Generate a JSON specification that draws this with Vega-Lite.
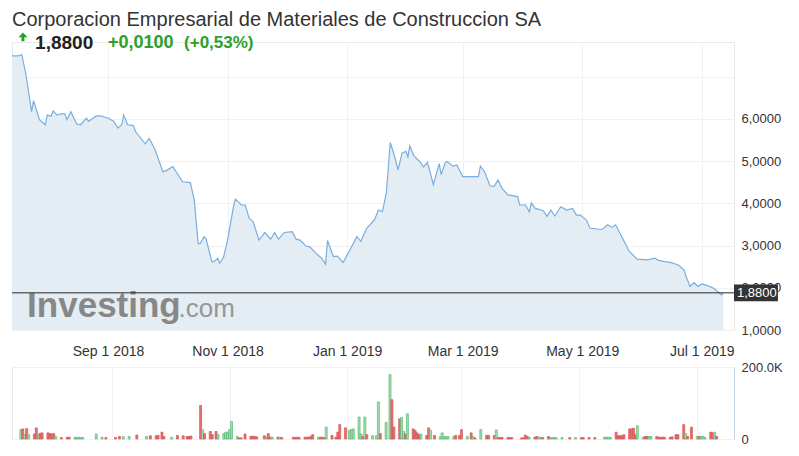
{
  "$schema": "https://vega.github.io/schema/vega-lite/v6.json",
  "padding": {"left": 9, "top": 10, "right": 0, "bottom": 0},
  "background": "white",
  "title": {"text": "Corporacion Empresarial de Materiales de Construccion SA", "anchor": "start", "frame": "group", "fontSize": 20, "fontWeight": "normal", "color": "#333333", "font": "Liberation Sans", "offset": 2},
  "config": {
    "font": "Liberation Sans",
    "view": {"stroke": "#e9e9e9"},
    "axis": {"labelFont": "Liberation Sans", "labelColor": "#333333", "title": null, "gridColor": "#f1f1f1", "domain": false, "ticks": false}
  },
  "spacing": 1,
  "datasets": {
    "price": [
      {"d":"2018-07-14","p":7.49},{"d":"2018-07-17","p":7.49},{"d":"2018-07-19","p":7.52},{"d":"2018-07-21","p":7.08},{"d":"2018-07-24","p":6.17},{"d":"2018-07-25","p":6.43},{"d":"2018-07-28","p":5.98},{"d":"2018-07-31","p":5.86},
      {"d":"2018-08-01","p":6.09},{"d":"2018-08-03","p":6.06},{"d":"2018-08-04","p":6.19},{"d":"2018-08-06","p":6.09},{"d":"2018-08-08","p":6.12},{"d":"2018-08-10","p":6.12},{"d":"2018-08-11","p":5.98},{"d":"2018-08-13","p":6.17},{"d":"2018-08-16","p":5.88},{"d":"2018-08-18","p":5.86},{"d":"2018-08-21","p":6.02},{"d":"2018-08-22","p":5.94},{"d":"2018-08-26","p":6.07},{"d":"2018-08-28","p":6.07},
      {"d":"2018-09-01","p":6.02},{"d":"2018-09-04","p":5.94},{"d":"2018-09-06","p":5.78},{"d":"2018-09-08","p":5.86},{"d":"2018-09-09","p":6.09},{"d":"2018-09-11","p":5.86},{"d":"2018-09-14","p":5.84},{"d":"2018-09-15","p":5.70},{"d":"2018-09-20","p":5.41},{"d":"2018-09-22","p":5.54},{"d":"2018-09-25","p":5.27},{"d":"2018-09-29","p":4.75},
      {"d":"2018-10-01","p":4.78},{"d":"2018-10-04","p":4.87},{"d":"2018-10-06","p":4.73},{"d":"2018-10-09","p":4.51},{"d":"2018-10-13","p":4.49},{"d":"2018-10-15","p":4.08},{"d":"2018-10-17","p":3.04},{"d":"2018-10-18","p":3.05},{"d":"2018-10-20","p":3.21},{"d":"2018-10-21","p":3.16},{"d":"2018-10-24","p":2.62},{"d":"2018-10-25","p":2.62},{"d":"2018-10-27","p":2.70},{"d":"2018-10-28","p":2.58},{"d":"2018-10-30","p":2.73},
      {"d":"2018-11-01","p":3.13},{"d":"2018-11-04","p":3.92},{"d":"2018-11-05","p":4.10},{"d":"2018-11-08","p":3.96},{"d":"2018-11-10","p":3.96},{"d":"2018-11-12","p":3.65},{"d":"2018-11-14","p":3.57},{"d":"2018-11-17","p":3.13},{"d":"2018-11-20","p":3.31},{"d":"2018-11-23","p":3.15},{"d":"2018-11-25","p":3.31},{"d":"2018-11-27","p":3.15},{"d":"2018-11-30","p":3.31},
      {"d":"2018-12-04","p":3.33},{"d":"2018-12-06","p":3.15},{"d":"2018-12-08","p":3.13},{"d":"2018-12-11","p":2.99},{"d":"2018-12-13","p":2.97},{"d":"2018-12-16","p":2.82},{"d":"2018-12-19","p":2.70},{"d":"2018-12-21","p":2.56},{"d":"2018-12-22","p":3.12},{"d":"2018-12-25","p":2.74},{"d":"2018-12-27","p":2.75},{"d":"2018-12-30","p":2.60},
      {"d":"2019-01-02","p":2.86},{"d":"2019-01-06","p":3.21},{"d":"2019-01-08","p":3.10},{"d":"2019-01-11","p":3.41},{"d":"2019-01-15","p":3.61},{"d":"2019-01-17","p":3.84},{"d":"2019-01-19","p":3.80},{"d":"2019-01-21","p":4.24},{"d":"2019-01-23","p":5.44},{"d":"2019-01-25","p":5.15},{"d":"2019-01-27","p":4.79},{"d":"2019-01-29","p":5.19},{"d":"2019-01-31","p":5.23},
      {"d":"2019-02-01","p":5.10},{"d":"2019-02-02","p":5.36},{"d":"2019-02-04","p":5.13},{"d":"2019-02-07","p":4.99},{"d":"2019-02-09","p":4.86},{"d":"2019-02-11","p":4.97},{"d":"2019-02-14","p":4.44},{"d":"2019-02-17","p":4.94},{"d":"2019-02-18","p":4.68},{"d":"2019-02-20","p":4.96},{"d":"2019-02-21","p":4.99},{"d":"2019-02-24","p":4.88},{"d":"2019-02-26","p":4.91},
      {"d":"2019-03-01","p":4.63},{"d":"2019-03-09","p":4.63},{"d":"2019-03-10","p":4.88},{"d":"2019-03-12","p":4.76},{"d":"2019-03-15","p":4.41},{"d":"2019-03-17","p":4.40},{"d":"2019-03-19","p":4.55},{"d":"2019-03-21","p":4.36},{"d":"2019-03-24","p":4.20},{"d":"2019-03-29","p":4.16},{"d":"2019-03-30","p":3.96},
      {"d":"2019-04-02","p":3.96},{"d":"2019-04-04","p":3.80},{"d":"2019-04-05","p":4.01},{"d":"2019-04-07","p":3.88},{"d":"2019-04-11","p":3.83},{"d":"2019-04-13","p":3.69},{"d":"2019-04-15","p":3.84},{"d":"2019-04-17","p":3.70},{"d":"2019-04-20","p":3.92},{"d":"2019-04-23","p":3.84},{"d":"2019-04-26","p":3.88},{"d":"2019-04-28","p":3.72},{"d":"2019-04-30","p":3.72},
      {"d":"2019-05-03","p":3.61},{"d":"2019-05-05","p":3.41},{"d":"2019-05-11","p":3.38},{"d":"2019-05-14","p":3.49},{"d":"2019-05-16","p":3.43},{"d":"2019-05-18","p":3.49},{"d":"2019-05-22","p":3.13},{"d":"2019-05-25","p":2.86},{"d":"2019-05-29","p":2.68},
      {"d":"2019-06-03","p":2.66},{"d":"2019-06-07","p":2.70},{"d":"2019-06-09","p":2.65},{"d":"2019-06-12","p":2.62},{"d":"2019-06-15","p":2.60},{"d":"2019-06-19","p":2.54},{"d":"2019-06-22","p":2.42},{"d":"2019-06-23","p":2.26},{"d":"2019-06-25","p":2.03},{"d":"2019-06-27","p":2.12},{"d":"2019-06-29","p":2.03},
      {"d":"2019-07-01","p":2.09},{"d":"2019-07-04","p":2.05},{"d":"2019-07-07","p":1.99},{"d":"2019-07-09","p":1.91},{"d":"2019-07-11","p":1.83},{"d":"2019-07-12","p":1.88}
    ],
    "vol": [
      {"d":"2018-07-16","v":26000,"t":"u"},{"d":"2018-07-17","v":28000,"t":"d"},{"d":"2018-07-18","v":12000,"t":"u"},{"d":"2018-07-19","v":29000,"t":"d"},{"d":"2018-07-20","v":12000,"t":"u"},{"d":"2018-07-23","v":14000,"t":"d"},{"d":"2018-07-24","v":31000,"t":"d"},{"d":"2018-07-25","v":12000,"t":"u"},{"d":"2018-07-26","v":16000,"t":"d"},{"d":"2018-07-27","v":17000,"t":"d"},{"d":"2018-07-30","v":17000,"t":"d"},{"d":"2018-07-31","v":15000,"t":"d"},
      {"d":"2018-08-01","v":14000,"t":"d"},{"d":"2018-08-02","v":15000,"t":"d"},{"d":"2018-08-03","v":7000,"t":"u"},{"d":"2018-08-06","v":4000,"t":"d"},{"d":"2018-08-09","v":5000,"t":"d"},{"d":"2018-08-10","v":5000,"t":"d"},{"d":"2018-08-13","v":5000,"t":"u"},{"d":"2018-08-14","v":4000,"t":"u"},{"d":"2018-08-15","v":5000,"t":"u"},{"d":"2018-08-16","v":4000,"t":"u"},{"d":"2018-08-17","v":4000,"t":"u"},{"d":"2018-08-24","v":14000,"t":"u"},{"d":"2018-08-27","v":5000,"t":"u"},{"d":"2018-08-29","v":4000,"t":"d"},
      {"d":"2018-09-03","v":4000,"t":"d"},{"d":"2018-09-05","v":7000,"t":"d"},{"d":"2018-09-07","v":7000,"t":"u"},{"d":"2018-09-10","v":7000,"t":"u"},{"d":"2018-09-14","v":11000,"t":"d"},{"d":"2018-09-19","v":7000,"t":"u"},{"d":"2018-09-21","v":9000,"t":"d"},{"d":"2018-09-24","v":9000,"t":"d"},{"d":"2018-09-25","v":10000,"t":"d"},{"d":"2018-09-27","v":19000,"t":"d"},{"d":"2018-09-28","v":7000,"t":"d"},
      {"d":"2018-10-02","v":5000,"t":"u"},{"d":"2018-10-05","v":10000,"t":"d"},{"d":"2018-10-08","v":9000,"t":"d"},{"d":"2018-10-10","v":7000,"t":"d"},{"d":"2018-10-11","v":7000,"t":"d"},{"d":"2018-10-12","v":8000,"t":"d"},{"d":"2018-10-17","v":93000,"t":"d"},{"d":"2018-10-18","v":26000,"t":"u"},{"d":"2018-10-19","v":15000,"t":"d"},{"d":"2018-10-22","v":21000,"t":"d"},{"d":"2018-10-23","v":12000,"t":"d"},{"d":"2018-10-25","v":21000,"t":"d"},{"d":"2018-10-26","v":12000,"t":"u"},{"d":"2018-10-29","v":15000,"t":"u"},{"d":"2018-10-30","v":19000,"t":"u"},{"d":"2018-10-31","v":19000,"t":"u"},
      {"d":"2018-11-01","v":26000,"t":"u"},{"d":"2018-11-02","v":49000,"t":"u"},{"d":"2018-11-05","v":7000,"t":"u"},{"d":"2018-11-06","v":3000,"t":"d"},{"d":"2018-11-07","v":3000,"t":"d"},{"d":"2018-11-09","v":14000,"t":"d"},{"d":"2018-11-12","v":7000,"t":"d"},{"d":"2018-11-13","v":8000,"t":"d"},{"d":"2018-11-14","v":7000,"t":"d"},{"d":"2018-11-15","v":6000,"t":"d"},{"d":"2018-11-19","v":9000,"t":"d"},{"d":"2018-11-20","v":5000,"t":"u"},{"d":"2018-11-21","v":15000,"t":"d"},{"d":"2018-11-22","v":5000,"t":"d"},{"d":"2018-11-23","v":5000,"t":"u"},{"d":"2018-11-26","v":5000,"t":"d"},{"d":"2018-11-27","v":5000,"t":"u"},{"d":"2018-11-28","v":4000,"t":"d"},
      {"d":"2018-12-04","v":5000,"t":"d"},{"d":"2018-12-05","v":4000,"t":"d"},{"d":"2018-12-06","v":5000,"t":"d"},{"d":"2018-12-07","v":4000,"t":"d"},{"d":"2018-12-10","v":5000,"t":"d"},{"d":"2018-12-11","v":5000,"t":"d"},{"d":"2018-12-12","v":5000,"t":"d"},{"d":"2018-12-13","v":7000,"t":"d"},{"d":"2018-12-14","v":12000,"t":"d"},{"d":"2018-12-17","v":5000,"t":"u"},{"d":"2018-12-18","v":5000,"t":"d"},{"d":"2018-12-19","v":5000,"t":"d"},{"d":"2018-12-20","v":4000,"t":"d"},{"d":"2018-12-21","v":33000,"t":"u"},{"d":"2018-12-24","v":10000,"t":"d"},{"d":"2018-12-26","v":5000,"t":"d"},{"d":"2018-12-27","v":19000,"t":"d"},{"d":"2018-12-28","v":40000,"t":"d"},{"d":"2018-12-31","v":31000,"t":"d"},
      {"d":"2019-01-02","v":24000,"t":"u"},{"d":"2019-01-03","v":26000,"t":"u"},{"d":"2019-01-04","v":28000,"t":"u"},{"d":"2019-01-07","v":61000,"t":"u"},{"d":"2019-01-08","v":14000,"t":"u"},{"d":"2019-01-09","v":7000,"t":"d"},{"d":"2019-01-10","v":61000,"t":"u"},{"d":"2019-01-11","v":12000,"t":"d"},{"d":"2019-01-14","v":9000,"t":"u"},{"d":"2019-01-16","v":9000,"t":"u"},{"d":"2019-01-17","v":103000,"t":"u"},{"d":"2019-01-18","v":15000,"t":"d"},{"d":"2019-01-21","v":46000,"t":"u"},{"d":"2019-01-23","v":179000,"t":"u"},{"d":"2019-01-24","v":109000,"t":"d"},{"d":"2019-01-25","v":33000,"t":"d"},{"d":"2019-01-28","v":56000,"t":"d"},{"d":"2019-01-29","v":60000,"t":"u"},{"d":"2019-01-30","v":21000,"t":"u"},{"d":"2019-01-31","v":14000,"t":"d"},
      {"d":"2019-02-01","v":70000,"t":"u"},{"d":"2019-02-04","v":28000,"t":"d"},{"d":"2019-02-05","v":24000,"t":"d"},{"d":"2019-02-06","v":17000,"t":"d"},{"d":"2019-02-07","v":12000,"t":"d"},{"d":"2019-02-08","v":14000,"t":"u"},{"d":"2019-02-11","v":10000,"t":"d"},{"d":"2019-02-12","v":31000,"t":"d"},{"d":"2019-02-13","v":24000,"t":"u"},{"d":"2019-02-15","v":10000,"t":"d"},{"d":"2019-02-18","v":7000,"t":"u"},{"d":"2019-02-19","v":17000,"t":"u"},{"d":"2019-02-20","v":7000,"t":"u"},{"d":"2019-02-21","v":6000,"t":"u"},{"d":"2019-02-22","v":7000,"t":"u"},{"d":"2019-02-25","v":7000,"t":"u"},{"d":"2019-02-26","v":10000,"t":"d"},{"d":"2019-02-28","v":10000,"t":"d"},
      {"d":"2019-03-01","v":26000,"t":"d"},{"d":"2019-03-04","v":7000,"t":"u"},{"d":"2019-03-06","v":17000,"t":"d"},{"d":"2019-03-07","v":7000,"t":"u"},{"d":"2019-03-08","v":3000,"t":"d"},{"d":"2019-03-11","v":26000,"t":"u"},{"d":"2019-03-14","v":10000,"t":"d"},{"d":"2019-03-15","v":10000,"t":"d"},{"d":"2019-03-18","v":10000,"t":"d"},{"d":"2019-03-19","v":25000,"t":"u"},{"d":"2019-03-20","v":4000,"t":"d"},{"d":"2019-03-21","v":4000,"t":"d"},{"d":"2019-03-22","v":4000,"t":"d"},{"d":"2019-03-25","v":4000,"t":"d"},{"d":"2019-03-26","v":4000,"t":"d"},{"d":"2019-03-27","v":4000,"t":"d"},
      {"d":"2019-04-01","v":3000,"t":"d"},{"d":"2019-04-02","v":3000,"t":"d"},{"d":"2019-04-03","v":11000,"t":"d"},{"d":"2019-04-04","v":7000,"t":"d"},{"d":"2019-04-05","v":5000,"t":"u"},{"d":"2019-04-08","v":5000,"t":"d"},{"d":"2019-04-09","v":7000,"t":"d"},{"d":"2019-04-10","v":5000,"t":"u"},{"d":"2019-04-11","v":5000,"t":"u"},{"d":"2019-04-12","v":4000,"t":"d"},{"d":"2019-04-15","v":7000,"t":"d"},{"d":"2019-04-16","v":4000,"t":"u"},{"d":"2019-04-17","v":4000,"t":"u"},{"d":"2019-04-18","v":4000,"t":"u"},{"d":"2019-04-19","v":4000,"t":"u"},{"d":"2019-04-22","v":4000,"t":"u"},{"d":"2019-04-26","v":4000,"t":"d"},{"d":"2019-04-29","v":4000,"t":"u"},
      {"d":"2019-05-02","v":4000,"t":"d"},{"d":"2019-05-03","v":4000,"t":"d"},{"d":"2019-05-06","v":4000,"t":"d"},{"d":"2019-05-09","v":4000,"t":"d"},{"d":"2019-05-14","v":5000,"t":"u"},{"d":"2019-05-15","v":5000,"t":"u"},{"d":"2019-05-16","v":5000,"t":"u"},{"d":"2019-05-17","v":5000,"t":"u"},{"d":"2019-05-20","v":19000,"t":"d"},{"d":"2019-05-21","v":9000,"t":"d"},{"d":"2019-05-22","v":9000,"t":"d"},{"d":"2019-05-23","v":9000,"t":"d"},{"d":"2019-05-24","v":12000,"t":"d"},{"d":"2019-05-27","v":28000,"t":"d"},{"d":"2019-05-28","v":28000,"t":"d"},{"d":"2019-05-29","v":30000,"t":"d"},{"d":"2019-05-30","v":12000,"t":"d"},{"d":"2019-05-31","v":37000,"t":"u"},
      {"d":"2019-06-03","v":5000,"t":"u"},{"d":"2019-06-04","v":7000,"t":"d"},{"d":"2019-06-05","v":7000,"t":"d"},{"d":"2019-06-06","v":7000,"t":"u"},{"d":"2019-06-07","v":7000,"t":"u"},{"d":"2019-06-10","v":7000,"t":"d"},{"d":"2019-06-11","v":5000,"t":"d"},{"d":"2019-06-12","v":5000,"t":"d"},{"d":"2019-06-13","v":5000,"t":"d"},{"d":"2019-06-14","v":5000,"t":"d"},{"d":"2019-06-17","v":5000,"t":"d"},{"d":"2019-06-18","v":6000,"t":"d"},{"d":"2019-06-20","v":12000,"t":"d"},{"d":"2019-06-21","v":12000,"t":"d"},{"d":"2019-06-24","v":40000,"t":"d"},{"d":"2019-06-25","v":15000,"t":"u"},{"d":"2019-06-26","v":7000,"t":"d"},{"d":"2019-06-28","v":33000,"t":"d"},
      {"d":"2019-07-01","v":7000,"t":"u"},{"d":"2019-07-02","v":7000,"t":"d"},{"d":"2019-07-03","v":7000,"t":"u"},{"d":"2019-07-04","v":7000,"t":"u"},{"d":"2019-07-05","v":4000,"t":"u"},{"d":"2019-07-08","v":19000,"t":"d"},{"d":"2019-07-09","v":17000,"t":"d"},{"d":"2019-07-10","v":19000,"t":"u"},{"d":"2019-07-11","v":7000,"t":"d"}
    ]
  },
  "vconcat": [
    {
      "width": 722,
      "height": 288,
      "layer": [
        {
          "data": {"name": "price"},
          "mark": {"type": "area", "color": "#e4edf3"},
          "encoding": {
            "x": {"field": "d", "type": "temporal",
              "scale": {"domain": [{"year": 2018, "month": 7, "date": 14}, {"year": 2019, "month": 7, "date": 17, "hours": 10}]},
              "axis": {"values": [{"year": 2018, "month": 9, "date": 1}, {"year": 2018, "month": 11, "date": 1}, {"year": 2019, "month": 1, "date": 1}, {"year": 2019, "month": 3, "date": 1}, {"year": 2019, "month": 5, "date": 1}, {"year": 2019, "month": 7, "date": 1}],
                "format": "%b %-d %Y", "labelFontSize": 14, "labelPadding": 14, "grid": true, "labelOverlap": false, "labelFlush": false}},
            "y": {"field": "p", "type": "quantitative",
              "scale": {"domain": [1, 7.82], "nice": false, "zero": false},
              "axis": {"orient": "right", "values": [1, 2, 3, 4, 5, 6, 7], "labelExpr": "datum.value == 7 ? '' : replace(format(datum.value, '.4f'), '.', ',')", "labelFontSize": 13, "labelPadding": 7, "grid": true}},
            "y2": {"datum": 1}
          }
        },
        {
          "data": {"values": [{"w": "Investing"}]},
          "mark": {"type": "text", "font": "Liberation Sans", "fontSize": 35, "fontWeight": "bold", "color": "#878787", "align": "left", "baseline": "alphabetic"},
          "encoding": {
            "x": {"datum": {"year": 2018, "month": 7, "date": 21, "hours": 17}, "type": "temporal"},
            "y": {"datum": 1.31},
            "text": {"field": "w"}
          }
        },
        {
          "data": {"values": [{"w": ".com"}]},
          "mark": {"type": "text", "font": "Liberation Sans", "fontSize": 26, "fontWeight": "normal", "color": "#969696", "align": "left", "baseline": "alphabetic"},
          "encoding": {
            "x": {"datum": {"year": 2018, "month": 10, "date": 7}, "type": "temporal"},
            "y": {"datum": 1.31},
            "text": {"field": "w"}
          }
        },
        {
          "data": {"name": "price"},
          "mark": {"type": "line", "color": "#78aee0", "strokeWidth": 1.2},
          "encoding": {
            "x": {"field": "d", "type": "temporal"},
            "y": {"field": "p", "type": "quantitative"}
          }
        },
        {
          "data": {"values": [{}]},
          "mark": {"type": "rule", "color": "#2b2b2b", "strokeWidth": 1},
          "encoding": {"y": {"datum": 1.88}}
        },
        {
          "data": {"values": [{}]},
          "mark": {"type": "rect", "color": "#333333"},
          "encoding": {
            "x": {"datum": {"year": 2019, "month": 7, "date": 17, "hours": 10}, "type": "temporal"},
            "x2": {"datum": {"year": 2019, "month": 8, "date": 8, "hours": 20}},
            "y": {"datum": 1.68},
            "y2": {"datum": 2.08}
          }
        },
        {
          "data": {"values": [{"w": "1,8800"}]},
          "mark": {"type": "text", "font": "Liberation Sans", "fontSize": 13, "color": "#ffffff", "align": "left", "baseline": "middle", "dx": 3},
          "encoding": {
            "x": {"datum": {"year": 2019, "month": 7, "date": 17, "hours": 10}, "type": "temporal"},
            "y": {"datum": 1.88},
            "text": {"field": "w"}
          }
        },
        {
          "data": {"values": [{}]},
          "mark": {"type": "point", "shape": "M0,-1L0.95,0L0.32,0L0.32,0.8L-0.32,0.8L-0.32,0L-0.95,0Z", "filled": true, "size": 90, "color": "#2a9f2a", "opacity": 1},
          "encoding": {
            "x": {"datum": {"year": 2018, "month": 7, "date": 19, "hours": 14}, "type": "temporal"},
            "y": {"datum": 7.93}
          }
        },
        {
          "data": {"values": [{"w": "1,8800", "dt": "2018-07-25T19:00:00"}]},
          "mark": {"type": "text", "font": "Liberation Sans", "fontSize": 19, "fontWeight": "bold", "align": "left", "baseline": "middle", "color": "#222222"},
          "encoding": {
            "x": {"field": "dt", "type": "temporal"},
            "y": {"datum": 7.8},
            "text": {"field": "w"}
          }
        },
        {
          "data": {"values": [{"w": "+0,0100", "dt": "2018-09-01T00:00:00"}]},
          "mark": {"type": "text", "font": "Liberation Sans", "fontSize": 18, "fontWeight": "bold", "align": "left", "baseline": "middle", "color": "#2a9f2a"},
          "encoding": {
            "x": {"field": "dt", "type": "temporal"},
            "y": {"datum": 7.8},
            "text": {"field": "w"}
          }
        },
        {
          "data": {"values": [{"w": "(+0,53%)", "dt": "2018-10-09T19:00:00"}]},
          "mark": {"type": "text", "font": "Liberation Sans", "fontSize": 17, "fontWeight": "bold", "align": "left", "baseline": "middle", "color": "#2a9f2a"},
          "encoding": {
            "x": {"field": "dt", "type": "temporal"},
            "y": {"datum": 7.8},
            "text": {"field": "w"}
          }
        }
      ]
    },
    {
      "width": 722,
      "height": 72,
      "data": {"name": "vol"},
      "mark": {"type": "bar", "size": 2, "strokeWidth": 0.7},
      "encoding": {
        "x": {"field": "d", "type": "temporal",
          "scale": {"domain": [{"year": 2018, "month": 7, "date": 14}, {"year": 2019, "month": 7, "date": 17, "hours": 10}]},
          "axis": {"values": [{"year": 2018, "month": 9, "date": 1}, {"year": 2018, "month": 11, "date": 1}, {"year": 2019, "month": 1, "date": 1}, {"year": 2019, "month": 3, "date": 1}, {"year": 2019, "month": 5, "date": 1}, {"year": 2019, "month": 7, "date": 1}],
            "labels": false, "grid": true}},
        "y": {"field": "v", "type": "quantitative",
          "scale": {"domain": [0, 200000], "nice": false},
          "axis": {"orient": "right", "values": [0, 200000], "labelExpr": "datum.value == 0 ? '0' : '200.0K'", "labelFontSize": 13, "labelPadding": 7, "grid": true, "domain": true, "domainColor": "#c5d3e8"}},
        "fill": {"field": "t", "type": "nominal", "scale": {"domain": ["u", "d"], "range": ["#a3dcb0", "#e57070"]}, "legend": null},
        "stroke": {"field": "t", "type": "nominal", "scale": {"domain": ["u", "d"], "range": ["#5cb874", "#d65555"]}, "legend": null}
      }
    }
  ]
}
